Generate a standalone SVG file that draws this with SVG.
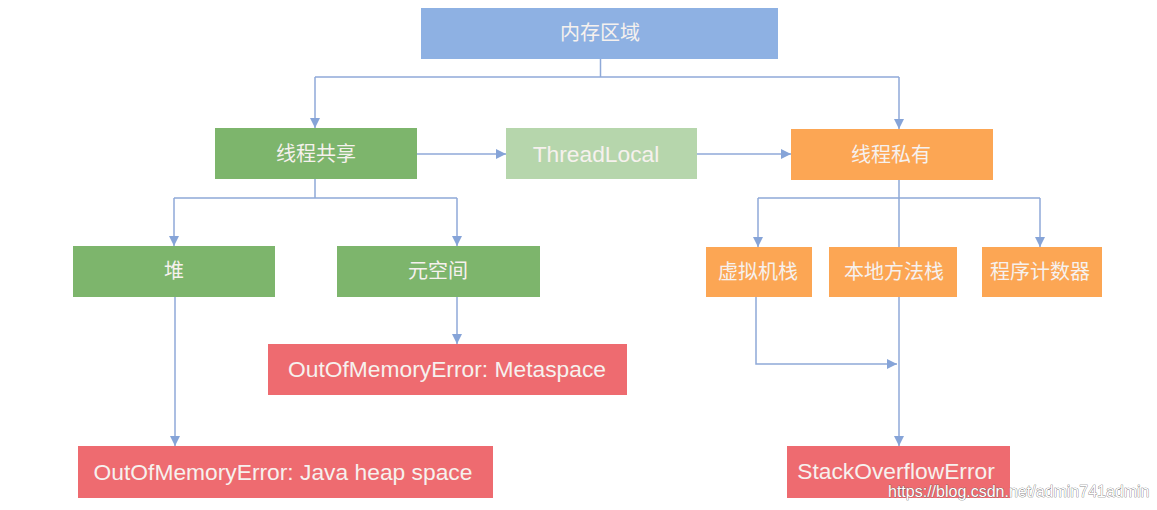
<svg xmlns="http://www.w3.org/2000/svg" width="1157" height="510" viewBox="0 0 1157 510">
<defs>
<marker id="ah" viewBox="0 0 10 10" refX="10" refY="5" markerWidth="10" markerHeight="10" markerUnits="userSpaceOnUse" orient="auto">
<path d="M0,0 L10,5 L0,10 Z" fill="#86a4d8"/>
</marker>
<style>
.t{font-family:"Liberation Sans","Noto Sans CJK SC",sans-serif;fill:#f6f1ee;text-anchor:middle;dominant-baseline:central}
.cn{font-size:20px}
.en{font-size:22.8px}
.c{fill:none;stroke:#8fa9d8;stroke-width:1.5}
.blue{fill:#8eb1e3}
.green{fill:#7db56c}
.lgreen{fill:#b6d6ac}
.orange{fill:#fca654}
.red{fill:#ee6b70}
</style>
</defs>
<rect width="1157" height="510" fill="#ffffff"/>
<g id="connectors">
<path class="c" d="M600.5,59 V77"/>
<path class="c" d="M315,77 H899"/>
<path class="c" d="M315,77 V128" marker-end="url(#ah)"/>
<path class="c" d="M899,77 V129" marker-end="url(#ah)"/>
<path class="c" d="M417,154 H506" marker-end="url(#ah)"/>
<path class="c" d="M697,154 H791" marker-end="url(#ah)"/>
<path class="c" d="M315,179 V198 M174,198 H457"/>
<path class="c" d="M174,198 V246" marker-end="url(#ah)"/>
<path class="c" d="M457,198 V246" marker-end="url(#ah)"/>
<path class="c" d="M899,180 V247 M758,198 H1040"/>
<path class="c" d="M758,198 V247" marker-end="url(#ah)"/>
<path class="c" d="M1040,198 V247" marker-end="url(#ah)"/>
<path class="c" d="M457,297 V344" marker-end="url(#ah)"/>
<path class="c" d="M175,297 V446" marker-end="url(#ah)"/>
<path class="c" d="M756,297 V364 H897" marker-end="url(#ah)"/>
<path class="c" d="M899,297 V446" marker-end="url(#ah)"/>
</g>
<g id="n-memory"><rect class="blue" x="421" y="8" width="357" height="51"/><text class="t cn" x="600" y="33">内存区域</text></g>
<g id="n-shared"><rect class="green" x="215" y="128" width="202" height="51"/><text class="t cn" x="316" y="154">线程共享</text></g>
<g id="n-threadlocal"><rect class="lgreen" x="506" y="128" width="191" height="51"/><text class="t en" x="596" y="154">ThreadLocal</text></g>
<g id="n-private"><rect class="orange" x="791" y="129" width="202" height="51"/><text class="t cn" x="891" y="155">线程私有</text></g>
<g id="n-heap"><rect class="green" x="73" y="246" width="202" height="51"/><text class="t cn" x="174" y="271">堆</text></g>
<g id="n-metaspace"><rect class="green" x="337" y="246" width="203" height="51"/><text class="t cn" x="438" y="271">元空间</text></g>
<g id="n-vmstack"><rect class="orange" x="706" y="247" width="106" height="50"/><text class="t cn" x="758" y="272">虚拟机栈</text></g>
<g id="n-nativestack"><rect class="orange" x="829" y="247" width="128" height="50"/><text class="t cn" x="894" y="272">本地方法栈</text></g>
<g id="n-pc"><rect class="orange" x="982" y="247" width="120" height="50"/><text class="t cn" x="1040" y="272">程序计数器</text></g>
<g id="n-oom-meta"><rect class="red" x="268" y="344" width="359" height="51"/><text class="t en" x="447" y="369">OutOfMemoryError: Metaspace</text></g>
<g id="n-oom-heap"><rect class="red" x="78" y="446" width="415" height="52"/><text class="t en" x="283" y="472">OutOfMemoryError: Java heap space</text></g>
<g id="n-soe"><rect class="red" x="787" y="446" width="223" height="52"/><text class="t en" x="896" y="471">StackOverflowError</text></g>
<text x="888" y="497" font-family="'Liberation Sans',sans-serif" font-size="16" fill="#ffffff" stroke="#555555" stroke-width="0.6" paint-order="stroke">https://blog.csdn.net/admin741admin</text>
</svg>
